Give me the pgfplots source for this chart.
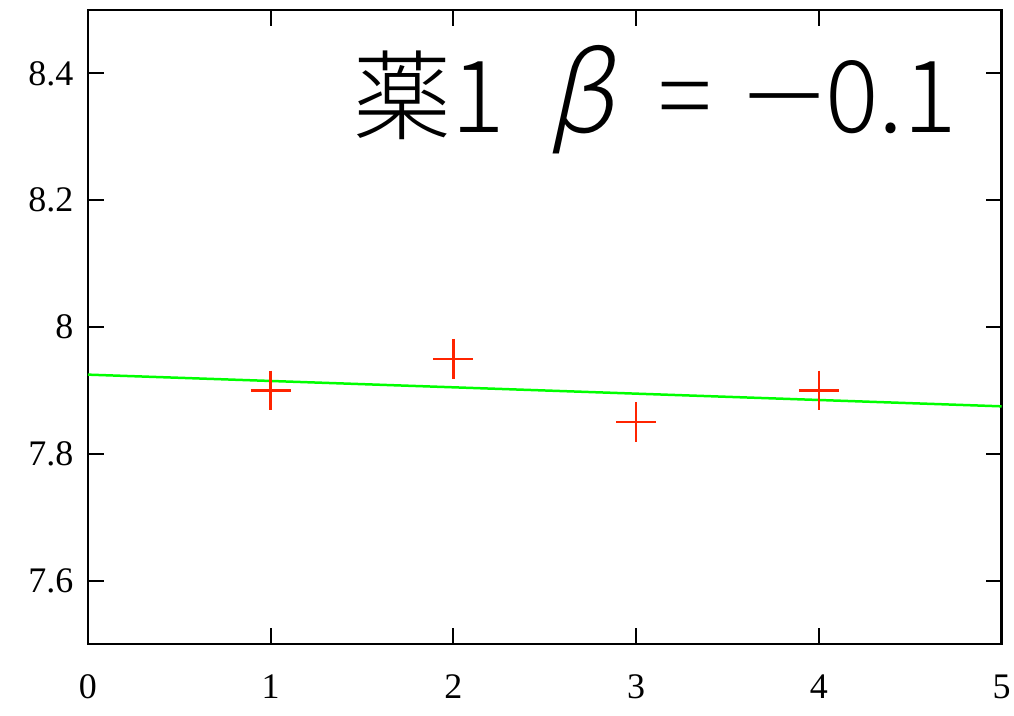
\documentclass[border=0pt]{standalone}
\usepackage{fontspec}
\usepackage{graphicx}
\setmainfont{Liberation Serif}
\newfontfamily\jpfont{Noto Sans CJK JP Light}
\newfontfamily\greekfont{Noto Sans CJK JP Light}[FakeSlant=0.22]
\usepackage{pgfplots}
\pgfplotsset{compat=1.18}
\definecolor{ptred}{RGB}{255,36,0}
\definecolor{fitgreen}{RGB}{0,255,0}
\newcommand\kanjisize{\fontsize{98}{100}\selectfont}
\newcommand\digitsize{\fontsize{100}{105}\selectfont}
\begin{document}
\begin{tikzpicture}
\begin{axis}[
  scale only axis,
  width=915pt, height=635pt,
  xmin=0, xmax=5, ymin=7.5, ymax=8.5,
  xtick={0,1,2,3,4,5},
  ytick={7.6,7.8,8,8.2,8.4},
  /pgf/number format/assume math mode=true,
  tick label style={font=\fontsize{36}{40}\selectfont},
  xticklabel style={yshift=-27pt},
  yticklabel style={xshift=-11pt},
  tick align=inside,
  major tick length=16pt,
  every tick/.style={black, line width=2pt},
  axis line style={line width=2.5pt},
  clip=false,
]
% measured values
\addplot[only marks, mark=+, mark size=20pt, ptred, line width=2.5pt,
  mark options={solid}] coordinates {
  (1,7.90) (2,7.95) (3,7.85) (4,7.90)
};
% least-squares fit
\addplot[fitgreen, line width=2.5pt] coordinates {(0,7.925) (5,7.875)};
\node[anchor=base west, inner sep=0pt]
  at (axis cs:1.4536,8.307) {\jpfont{\kanjisize 薬}{\digitsize 1}\hspace{43pt}{\fontsize{108}{110}\selectfont\greekfont β}\hspace{45pt}{\digitsize =}\hspace{33pt}{\digitsize\scalebox{1.5}[1]{−}0.1}};
\end{axis}
\path (current axis.south west) ++(-88pt,-71pt) coordinate (bbA);
\path (current axis.north east) ++(11pt,10pt) coordinate (bbB);
\path (bbA) rectangle (bbB);
\end{tikzpicture}
\end{document}
